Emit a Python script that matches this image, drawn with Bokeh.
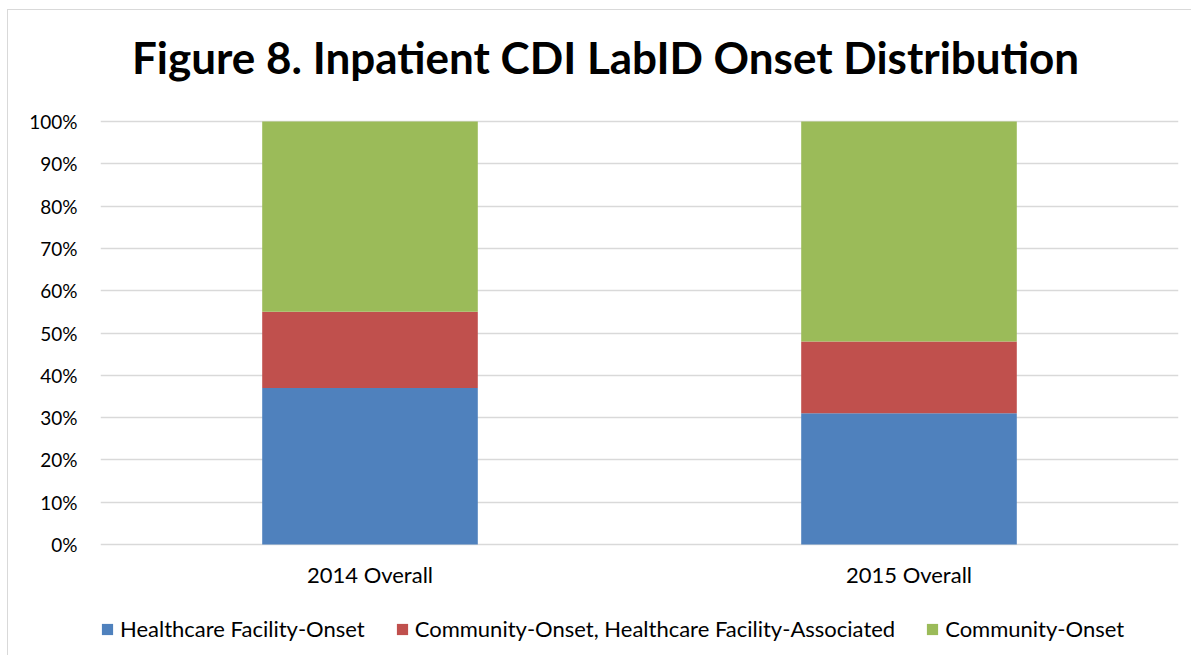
from bokeh.plotting import figure
from bokeh.models import Legend, PrintfTickFormatter, FixedTicker, Range1d, Label, LabelSet, ColumnDataSource
from bokeh.core.properties import value
from bokeh.embed import file_html
from bokeh.resources import INLINE

categories = ["2014 Overall", "2015 Overall"]
healthcare_facility_onset = [37, 31]
community_onset_hcfa = [18, 17]
community_onset = [45, 52]
series = ["Healthcare Facility-Onset", "Community-Onset, Healthcare Facility-Associated", "Community-Onset"]
colors = ["#4F81BD", "#C0504D", "#9BBB59"]
y_ticks = [0, 10, 20, 30, 40, 50, 60, 70, 80, 90, 100]
title_text = "Figure 8. Inpatient CDI LabID Onset Distribution"

FONT = "Lato"

# layout constants (pixels)
PLOT_PX = 423          # height of 0..100 %
ABOVE_PX = 111         # space above 100 % (title area)
BELOW_PX = 111         # space below 0 % (labels + legend)
px_per_unit = PLOT_PX / 100.0

source = ColumnDataSource(data={
    "cat": categories,
    "hfo": healthcare_facility_onset,
    "cohcfa": community_onset_hcfa,
    "co": community_onset,
    "base": [0] * len(categories),
})

p = figure(
    x_range=categories,
    y_range=Range1d(-BELOW_PX / px_per_unit, 100 + ABOVE_PX / px_per_unit),
    frame_width=1078,
    frame_height=PLOT_PX + ABOVE_PX + BELOW_PX,
    min_border_left=92,
    min_border_right=13,
    min_border_top=0,
    min_border_bottom=0,
    output_backend="svg",
    toolbar_location=None,
)
p.styles = {
    "margin-left": "7px",
    "margin-top": "9px",
    "border-top": "1px solid #d9d9d9",
    "border-left": "1px solid #d9d9d9",
}

renderers = p.vbar_stack(
    ["hfo", "cohcfa", "co"],
    x="cat",
    width=0.4,
    color=colors,
    line_color=None,
    source=source,
)

p.outline_line_color = None
p.xgrid.grid_line_color = None
p.ygrid.grid_line_color = "#d9d9d9"
p.ygrid.grid_line_width = 1.5
p.ygrid.bounds = (0, 100)
p.yaxis.ticker = FixedTicker(ticks=y_ticks)
p.yaxis.formatter = PrintfTickFormatter(format="%d%%")
p.yaxis.axis_line_color = None
p.yaxis.major_tick_line_color = None
p.yaxis.minor_tick_line_color = None
p.yaxis.major_tick_out = 0
p.yaxis.major_tick_in = 0
p.yaxis.major_label_text_font = FONT
p.yaxis.major_label_text_color = "#000000"
p.yaxis.major_label_text_font_size = "19px"
p.yaxis.major_label_standoff = 23
p.xaxis.visible = False
p.x_range.range_padding = 0

# category labels under the bars
cat_labels = LabelSet(
    x="cat", y="base", text="cat", source=source,
    y_offset=-30,
    text_align="center", text_baseline="middle",
    text_font=value(FONT), text_font_size=value("22px"), text_color=value("#000000"),
)
p.add_layout(cat_labels)

# title
title = Label(
    x=1.0, y=100, x_offset=-34, y_offset=65,
    text=title_text,
    text_align="center", text_baseline="alphabetic",
    text_font=FONT, text_font_size="44px", text_font_style="bold",
    text_color="#000000",
)
p.add_layout(title)

legend = Legend(
    items=[(s, [r]) for s, r in zip(series, renderers)],
    orientation="horizontal",
    location=(0, 13),
    label_text_font=FONT,
    label_text_font_size="22px",
    label_text_color="#000000",
    glyph_width=14,
    glyph_height=14,
    label_standoff=6,
    spacing=30,
    padding=0,
    margin=0,
    border_line_color=None,
    background_fill_alpha=0,
)
p.add_layout(legend, "center")

open("out.html", "w").write(file_html(p, INLINE))
